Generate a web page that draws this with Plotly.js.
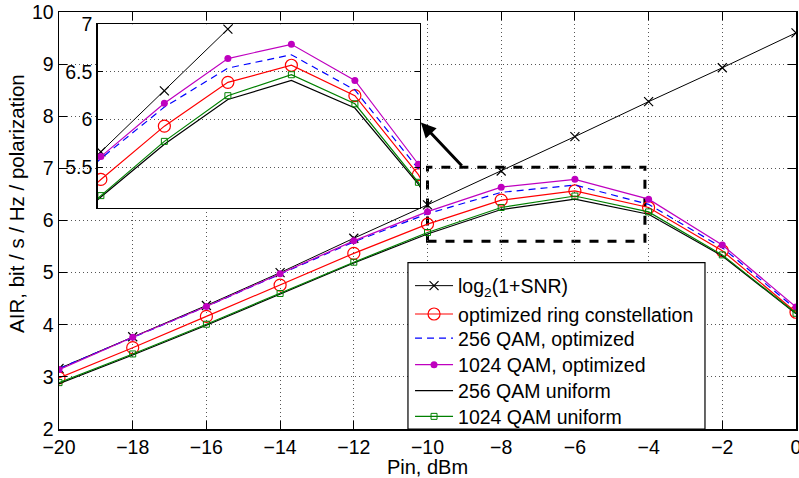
<!DOCTYPE html>
<html>
<head>
<meta charset="utf-8">
<script src="https://cdn.plot.ly/plotly-3.0.1.min.js"></script>
<style>html,body{margin:0;padding:0;background:#fff;}#chart{width:799px;height:478px;}</style>
</head>
<body>
<div id="chart"></div>
<script>
// Data
const pinDbm = [-20, -18, -16, -14, -12, -10, -8, -6, -4, -2, 0];
const log2Snr = [3.16, 3.77, 4.37, 5.00, 5.66, 6.30, 6.95, 7.61, 8.28, 8.93, 9.60];
const ringOpt = [2.98, 3.56, 4.16, 4.76, 5.37, 5.93, 6.39, 6.57, 6.25, 5.42, 4.24];
const qam256Opt = [3.16, 3.76, 4.35, 4.97, 5.59, 6.13, 6.54, 6.68, 6.31, 5.48, 4.30];
const qam1024Opt = [3.14, 3.76, 4.35, 4.98, 5.61, 6.17, 6.64, 6.79, 6.41, 5.53, 4.34];
const qam256Uni = [2.87, 3.42, 3.99, 4.58, 5.185, 5.74, 6.21, 6.41, 6.12, 5.32, 4.21];
const qam1024Uni = [2.89, 3.44, 4.01, 4.60, 5.20, 5.77, 6.25, 6.47, 6.165, 5.34, 4.22];

const seriesNames = ['log<sub>2</sub>(1+SNR)', 'optimized ring constellation', '256 QAM, optimized',
  '1024 QAM, optimized', '256 QAM uniform', '1024 QAM uniform'];
const seriesValues = [log2Snr, ringOpt, qam256Opt, qam1024Opt, qam256Uni, qam1024Uni];

const xTicks = [-20, -18, -16, -14, -12, -10, -8, -6, -4, -2, 0];
const yTicks = [2, 3, 4, 5, 6, 7, 8, 9, 10];
const insetYTicks = [5.5, 6, 6.5, 7];

const styles = [
  {mode: 'lines+markers', line: {color: '#000', width: 1}, marker: {symbol: 'x-thin-open', size: 9, color: '#000', line: {width: 1.2, color: '#000'}}},
  {mode: 'lines+markers', line: {color: '#ff0000', width: 1.2}, marker: {symbol: 'circle-open', size: 12, color: '#ff0000', line: {width: 1.2, color: '#ff0000'}}},
  {mode: 'lines', line: {color: '#0000ff', width: 1.2, dash: '7px,5px'}},
  {mode: 'lines+markers', line: {color: '#bf00bf', width: 1.2}, marker: {symbol: 'circle', size: 7, color: '#bf00bf'}},
  {mode: 'lines', line: {color: '#000', width: 1.2}},
  {mode: 'lines+markers', line: {color: '#008000', width: 1.2}, marker: {symbol: 'square-open', size: 6, color: '#008000', line: {width: 1, color: '#008000'}}}
];

const legendIds = ['legend', 'legend2', 'legend3', 'legend4', 'legend5', 'legend6'];

const traces = [];
seriesValues.forEach((vals, i) => {
  traces.push(Object.assign({type: 'scatter', x: pinDbm, y: vals, name: seriesNames[i], xaxis: 'x', yaxis: 'y',
    showlegend: true, legend: legendIds[i]}, styles[i]));
});
seriesValues.forEach((vals, i) => {
  traces.push(Object.assign({type: 'scatter', x: pinDbm, y: vals, name: seriesNames[i], xaxis: 'x2', yaxis: 'y2', showlegend: false}, styles[i]));
});

const font = {family: '"Liberation Sans", Arial, Helvetica, sans-serif', color: '#000'};
const gridDash = '1px,3px';

const layout = {
  width: 799, height: 478,
  margin: {l: 59, r: 3, t: 12, b: 49},
  paper_bgcolor: '#fff', plot_bgcolor: '#fff',
  font: Object.assign({size: 19}, font),
  showlegend: true,
  xaxis: {
    domain: [0, 1], range: [-20, 0], tickvals: xTicks,
    ticks: 'inside', ticklen: 8, tickcolor: '#000', mirror: 'ticks',
    showline: true, linecolor: '#000', linewidth: 1.5,
    showgrid: true, gridcolor: '#555', griddash: gridDash, gridwidth: 1, zeroline: false,
    ticklabeloverflow: 'allow',
    tickfont: Object.assign({size: 19.5}, font),
    title: {text: 'Pin, dBm', font: Object.assign({size: 20}, font), standoff: 2}
  },
  yaxis: {
    domain: [0, 1], range: [2, 10], tickvals: yTicks,
    ticks: 'inside', ticklen: 8, tickcolor: '#000', mirror: 'ticks',
    showline: true, linecolor: '#000', linewidth: 1.5,
    showgrid: true, gridcolor: '#555', griddash: gridDash, gridwidth: 1, zeroline: false,
    ticklabeloverflow: 'allow',
    tickfont: Object.assign({size: 19.5}, font)
  },
  xaxis2: {
    domain: [0.0525, 0.4898], anchor: 'y2', range: [-12.1, -1.95],
    showticklabels: false, ticks: '', showgrid: false, zeroline: false,
    showline: true, linecolor: '#000', linewidth: 1.5, mirror: true
  },
  yaxis2: {
    domain: [0.530, 0.9705], anchor: 'x2', range: [5.07, 7.0], tickvals: insetYTicks,
    ticks: 'inside', ticklen: 5, tickcolor: '#000', mirror: 'ticks',
    showline: true, linecolor: '#000', linewidth: 1.5,
    showgrid: true, gridcolor: '#555', griddash: gridDash, gridwidth: 1, zeroline: false,
    ticklabeloverflow: 'allow',
    tickfont: Object.assign({size: 19.5}, font)
  },
  shapes: [
    {
      type: 'rect', xref: 'x', yref: 'y', x0: -10, x1: -4.1, y0: 5.6, y1: 7.02,
      line: {color: '#000', width: 3, dash: 'dash'}, fillcolor: 'rgba(0,0,0,0)', layer: 'below'
    },
    {
      // legend box
      type: 'rect', xref: 'paper', yref: 'paper', x0: 0.4735, x1: 0.8765, y0: 0, y1: 0.399,
      line: {color: '#000', width: 1.2}, fillcolor: '#fff', layer: 'above'
    }
  ],
  annotations: [
    {
      xref: 'x', yref: 'y', axref: 'x', ayref: 'y',
      x: -10.18, y: 7.88, ax: -9.03, ay: 7.02,
      text: '', showarrow: true, arrowhead: 2, arrowsize: 1, arrowwidth: 3, arrowcolor: '#000', standoff: 0
    },
    {
      xref: 'paper', yref: 'paper', x: -0.0577, y: 0.541, xanchor: 'center', yanchor: 'middle',
      text: 'AIR, bit / s / Hz / polarization', textangle: -90, showarrow: false,
      font: Object.assign({size: 20.5}, font)
    }
  ]
};

// legend rows positioned to match the reference spacing
const legendRowY = [0.343, 0.275, 0.2171, 0.1534, 0.0911, 0.0295];
legendIds.forEach((id, i) => {
  layout[id] = {
    x: 0.4763, y: legendRowY[i], xanchor: 'left', yanchor: 'middle',
    bgcolor: 'rgba(0,0,0,0)', borderwidth: 0, itemwidth: 38,
    font: Object.assign({size: 19.5}, font)
  };
});

Plotly.newPlot('chart', traces, layout, {displayModeBar: false, staticPlot: true});
</script>
</body>
</html>
